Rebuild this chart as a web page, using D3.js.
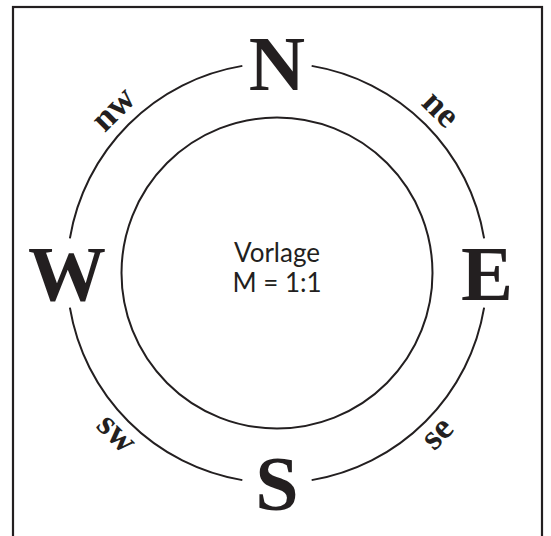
<!DOCTYPE html>
<html>
<head>
<meta charset="utf-8">
<script src="https://cdn.jsdelivr.net/npm/d3@7"></script>
<style>
  html, body { margin: 0; padding: 0; background: #fff; }
  svg { display: block; }
</style>
</head>
<body>
<svg id="chart" width="551" height="536"></svg>
<script>
// ---- data ----
const cardinalLabels = ["N", "E", "S", "W"];
const cardinalAngles = [0, 90, 180, 270];
const intercardinalLabels = ["ne", "se", "sw", "nw"];
const intercardinalAngles = [45, 135, 225, 315];
const centerLines = ["Vorlage", "M = 1:1"];

// ---- layout ----
const W = 551, H = 536;
const cx = 277, cy = 273;
const rOuter = 210, rInner = 155.5, rLabel = 229;
const gapHalf = 9.5; // degrees
const ink = "#231f20";

const svg = d3.select("#chart");
const g = svg.append("g").attr("transform", `translate(${cx},${cy})`);

// frame
svg.append("rect")
  .attr("x", 13).attr("y", 7)
  .attr("width", 529).attr("height", 545)
  .attr("fill", "none").attr("stroke", ink).attr("stroke-width", 2.2);

// angle scale (degrees -> radians, 0 = north, clockwise)
const ang = d3.scaleLinear().domain([0, 360]).range([0, 2 * Math.PI]);

// outer circle broken at cardinal letters
const segs = cardinalAngles.map((a, i) => {
  const next = cardinalAngles[(i + 1) % cardinalAngles.length] + (i === cardinalAngles.length - 1 ? 360 : 0);
  return [a + gapHalf, next - gapHalf];
});
g.selectAll("path.outer").data(segs).join("path")
  .attr("class", "outer")
  .attr("d", d => {
    const p = d3.path();
    const a0 = ang(d[0]) - Math.PI / 2, a1 = ang(d[1]) - Math.PI / 2;
    p.moveTo(rOuter * Math.cos(a0), rOuter * Math.sin(a0));
    p.arc(0, 0, rOuter, a0, a1, false);
    return p.toString();
  })
  .attr("fill", "none").attr("stroke", ink).attr("stroke-width", 2);

// inner circle
g.append("circle").attr("r", rInner)
  .attr("fill", "none").attr("stroke", ink).attr("stroke-width", 2);

// cardinal letters
g.selectAll("text.card").data(cardinalLabels).join("text")
  .attr("class", "card")
  .attr("x", (d, i) => rOuter * Math.sin(ang(cardinalAngles[i])))
  .attr("y", (d, i) => -rOuter * Math.cos(ang(cardinalAngles[i])))
  .attr("dy", "0.35em")
  .attr("text-anchor", "middle")
  .attr("font-family", "'Liberation Serif', 'DejaVu Serif', serif")
  .attr("font-weight", "bold")
  .attr("font-size", 78)
  .attr("fill", ink)
  .text(d => d);

// intercardinal labels
g.selectAll("text.inter").data(intercardinalLabels).join("text")
  .attr("class", "inter")
  .attr("transform", (d, i) => {
    const a = intercardinalAngles[i];
    const x = rLabel * Math.sin(ang(a)), y = -rLabel * Math.cos(ang(a));
    const rot = (a > 90 && a < 270) ? a - 180 : a;
    return `translate(${x},${y}) rotate(${rot})`;
  })
  .attr("dy", "0.23em")
  .attr("text-anchor", "middle")
  .attr("font-family", "'Liberation Serif', 'DejaVu Serif', serif")
  .attr("font-weight", "bold")
  .attr("font-size", 36)
  .attr("fill", ink)
  .text(d => d);

// center text
g.selectAll("text.center").data(centerLines).join("text")
  .attr("class", "center")
  .attr("x", 0)
  .attr("y", (d, i) => -11 + i * 30)
  .attr("text-anchor", "middle")
  .attr("font-family", "Lato, 'Open Sans', sans-serif")
  .attr("font-size", 26)
  .attr("fill", ink)
  .text(d => d);
</script>
</body>
</html>
